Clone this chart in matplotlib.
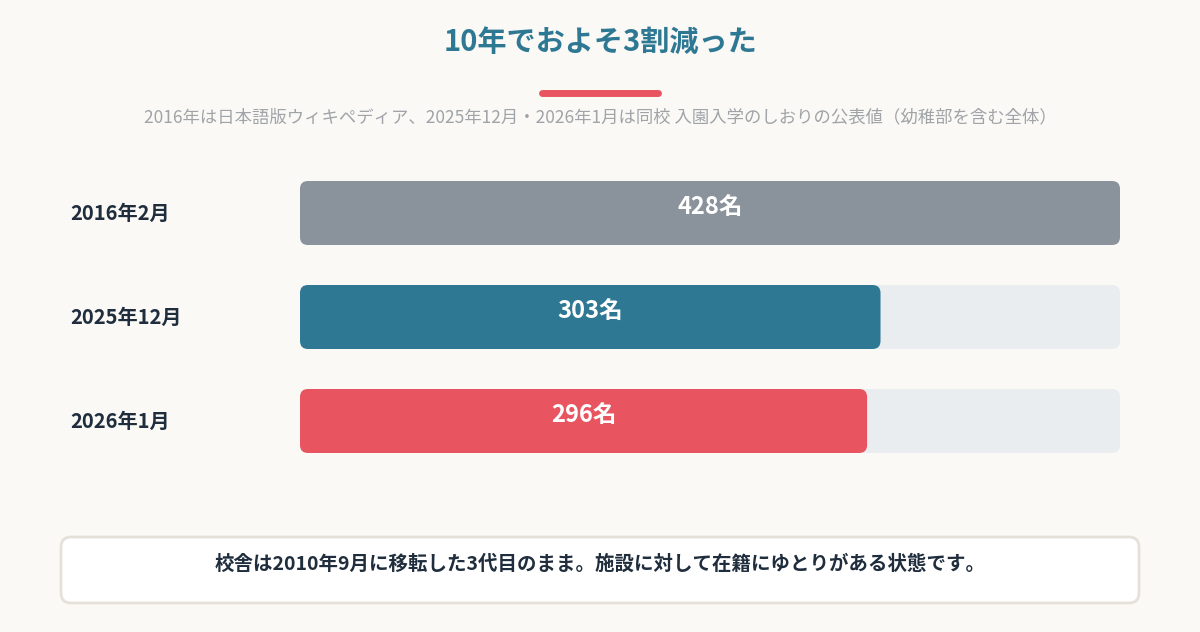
import matplotlib.pyplot as plt
from matplotlib.patches import FancyBboxPatch

plt.rcParams['font.family'] = ['Noto Sans CJK JP', 'DejaVu Sans']

# data
periods = ["2016年2月", "2025年12月", "2026年1月"]
counts = [428, 303, 296]
bar_colors = ["#8a929b", "#2e7893", "#e85560"]
max_count = 428

title = "10年でおよそ3割減った"
subtitle = "2016年は日本語版ウィキペディア、2025年12月・2026年1月は同校 入園入学のしおりの公表値（幼稚部を含む全体）"
note = "校舎は2010年9月に移転した3代目のまま。施設に対して在籍にゆとりがある状態です。"

W, H = 1200, 632
fig = plt.figure(figsize=(W / 100, H / 100), dpi=100, facecolor="#faf9f6")
ax = fig.add_axes([0, 0, 1, 1])
ax.set_xlim(0, W)
ax.set_ylim(H, 0)
ax.axis("off")

ax.text(W / 2, 42, title, ha="center", va="center", fontsize=21,
        fontweight="bold", color="#2e7893")
ax.plot([542, 658], [93, 93], color="#e85560", lw=5, solid_capstyle="round")
ax.text(W / 2, 117, subtitle, ha="center", va="center", fontsize=12.5,
        color="#a0a3a7")

x0, track_w, bar_h = 300, 820, 64
tops = [181, 285, 389]
for label, val, col, top in zip(periods, counts, bar_colors, tops):
    ax.add_patch(FancyBboxPatch((x0, top), track_w, bar_h,
                                boxstyle="round,pad=0,rounding_size=8",
                                fc="#e9edef", ec="none"))
    w = val / max_count * track_w
    ax.add_patch(FancyBboxPatch((x0, top), w, bar_h,
                                boxstyle="round,pad=0,rounding_size=8",
                                fc=col, ec="none"))
    ax.text(x0 + w / 2, top + 26, f"{val}名", ha="center", va="center",
            fontsize=17, fontweight="bold", color="white")
    ax.text(70, top + 32, label, ha="left", va="center", fontsize=14.5,
            fontweight="bold", color="#1f2d3d")

ax.add_patch(FancyBboxPatch((61, 537), 1078, 66,
                            boxstyle="round,pad=0,rounding_size=10",
                            fc="white", ec="#e5e1d8", lw=2))
ax.text(W / 2, 564, note, ha="center", va="center", fontsize=14,
        fontweight="bold", color="#1f2d3d")

fig.savefig("out.png", dpi=100, facecolor=fig.get_facecolor())
